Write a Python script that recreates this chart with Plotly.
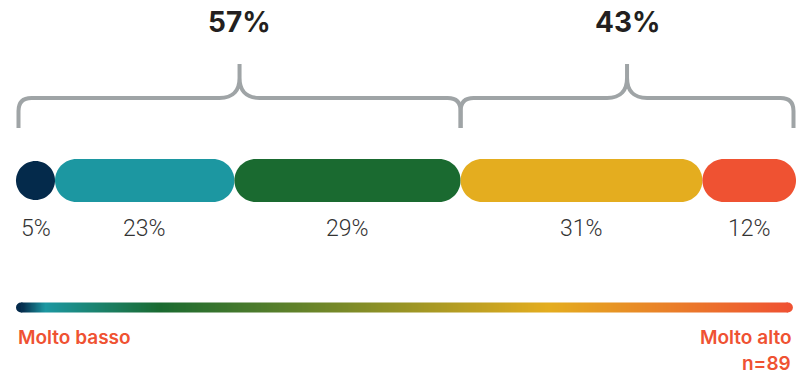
import numpy as np
import plotly.graph_objects as go

# ---- data -------------------------------------------------------------
levels = ["Molto basso", "Basso", "Medio", "Alto", "Molto alto"]
shares = [5, 23, 29, 31, 12]                      # percent of respondents
colors = ["#042a4b", "#1c97a1", "#1a6a30", "#e4ad1f", "#ef5232"]
group_members = [[0, 1, 2], [3, 4]]               # low side / high side
group_labels = ["57%", "43%"]
scale_left = "Molto basso"
scale_right = "Molto alto"
sample_note = "n=89"

# gradient stops of the scale bar (position 0..1, colour)
grad_stops = [(0.0, "#042a4b"), (0.031, "#1c97a1"), (0.181, "#1a6a30"),
              (0.687, "#e4ad1f"), (1.0, "#ef5232")]

# ---- geometry ---------------------------------------------------------
W, H = 812, 377
PX_LEFT, PX_RIGHT = 16, 796                      # where 0% and 100% fall
PPU = (PX_RIGHT - PX_LEFT) / 100.0               # pixels per percent
X_MIN = -PX_LEFT / PPU
X_MAX = X_MIN + W / PPU

BAR_Y, BAR_H = 180.5, 43
LABEL_Y = 228
BRACE_LINE_Y, BRACE_TIP_Y, BRACE_END_Y = 98, 64, 128
TOP_LABEL_Y = 22
GRAD_Y, GRAD_H = 307.5, 10
K = 0.5523                                       # bezier circle constant


def px(v):
    return v / PPU


def capsule(x0, x1, yc, h):
    w = (x1 - x0) * PPU
    r = min(h / 2.0, w / 2.0)
    rx, ry = px(r), r
    t, b = yc - ry, yc + ry
    return (
        f"M {x0 + rx},{t} L {x1 - rx},{t} "
        f"C {x1 - rx + K * rx},{t} {x1},{yc - K * ry} {x1},{yc} "
        f"C {x1},{yc + K * ry} {x1 - rx + K * rx},{b} {x1 - rx},{b} "
        f"L {x0 + rx},{b} "
        f"C {x0 + rx - K * rx},{b} {x0},{yc + K * ry} {x0},{yc} "
        f"C {x0},{yc - K * ry} {x0 + rx - K * rx},{t} {x0 + rx},{t} Z"
    )


def brace(xa, xb, xm):
    rc, rp = px(13), px(20)
    yl, yt, ye = BRACE_LINE_Y, BRACE_TIP_Y, BRACE_END_Y
    yk = yl - 20
    return (
        f"M {xa},{ye} L {xa},{yl + 13} Q {xa},{yl} {xa + rc},{yl} "
        f"L {xm - rp},{yl} C {xm - rp * 0.3},{yl} {xm},{yl - 8} {xm},{yk} "
        f"L {xm},{yt} M {xm},{yk} C {xm},{yl - 8} {xm + rp * 0.3},{yl} {xm + rp},{yl} "
        f"L {xb - rc},{yl} Q {xb},{yl} {xb},{yl + 13} L {xb},{ye}"
    )


fig = go.Figure()
shapes = []
annotations = []

# ---- segmented capsule bar -------------------------------------------
edges = np.concatenate([[0], np.cumsum(shares)])
for i, (v, c) in enumerate(zip(shares, colors)):
    x0, x1 = edges[i], edges[i + 1]
    shapes.append(dict(type="path", path=capsule(x0, x1, BAR_Y, BAR_H),
                       xref="x", yref="y", fillcolor=c, line=dict(width=0)))
    annotations.append(dict(x=(x0 + x1) / 2, y=LABEL_Y, xref="x", yref="y",
                            text=f"{v}%", showarrow=False,
                            font=dict(family="Roboto", size=23, color="#333333",
                                      weight=300)))

# ---- group braces -----------------------------------------------------
inset = px(2.5)
for g, (members, lab) in enumerate(zip(group_members, group_labels)):
    xa = edges[members[0]]
    xb = edges[members[-1] + 1]
    if g == 0:
        xa += inset
    if g == len(group_members) - 1:
        xb -= inset
    xm = (xa + xb) / 2
    shapes.append(dict(type="path", path=brace(xa, xb, xm), xref="x", yref="y",
                       fillcolor="rgba(0,0,0,0)",
                       line=dict(color="#9fa4a6", width=4)))
    annotations.append(dict(x=xm, y=TOP_LABEL_Y, xref="x", yref="y", text=f"<b>{lab}</b>",
                            showarrow=False,
                            font=dict(family="Inter", size=28, color="#231f20")))

# ---- gradient scale bar ------------------------------------------------
gr = px(GRAD_H / 2)
g_x0, g_x1 = 0 + gr, 99.6 - gr
n = 300
gx = np.linspace(g_x0, g_x1, n + 1)
gz = [list((gx[:-1] + gx[1:]) / 2)]
fig.add_trace(go.Heatmap(
    x=gx, y=[GRAD_Y - GRAD_H / 2, GRAD_Y + GRAD_H / 2], z=gz,
    zmin=g_x0, zmax=g_x1, colorscale=[[p, c] for p, c in grad_stops],
    showscale=False, hoverinfo="skip", zsmooth="best"))
for cx, c in [(g_x0, grad_stops[0][1]), (g_x1, grad_stops[-1][1])]:
    shapes.append(dict(type="circle", xref="x", yref="y",
                       x0=cx - gr, x1=cx + gr,
                       y0=GRAD_Y - GRAD_H / 2, y1=GRAD_Y + GRAD_H / 2,
                       fillcolor=c, line=dict(width=0), layer="below"))

end_font = dict(family="Inter", size=19, color="#ef5232", weight=600)
annotations.append(dict(x=0, y=337, xref="x", yref="y", text=scale_left,
                        xanchor="left", showarrow=False, font=end_font))
annotations.append(dict(x=99.6, y=337, xref="x", yref="y", text=scale_right,
                        xanchor="right", showarrow=False, font=end_font))
annotations.append(dict(x=99.6, y=H, xref="x", yref="y", text=sample_note,
                        xanchor="right", yanchor="bottom", showarrow=False,
                        font=end_font))

fig.update_layout(
    width=W, height=H, margin=dict(l=0, r=0, t=0, b=0),
    paper_bgcolor="white", plot_bgcolor="white",
    shapes=shapes, annotations=annotations, showlegend=False,
    xaxis=dict(range=[X_MIN, X_MAX], visible=False, fixedrange=True),
    yaxis=dict(range=[H, 0], visible=False, fixedrange=True),
)

fig.write_html("out.html")
